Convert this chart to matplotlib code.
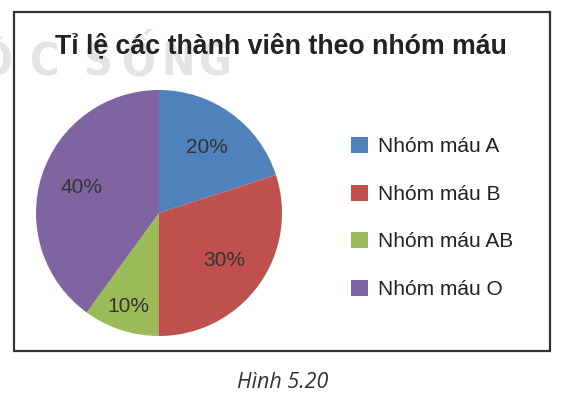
import numpy as np
import matplotlib
matplotlib.use("Agg")
import matplotlib.pyplot as plt
from matplotlib.patches import Rectangle
from matplotlib import font_manager

# data
groups = ["Nhóm máu A", "Nhóm máu B", "Nhóm máu AB", "Nhóm máu O"]
percents = [20, 30, 10, 40]
colors = ["#4F81BD", "#C0504D", "#9BBB59", "#8064A2"]
title = "Tỉ lệ các thành viên theo nhóm máu"
caption = "Hình 5.20"
watermark = ["Ộ", "C", "S", "Ố", "N", "G"]

plt.rcParams['font.family'] = ['Liberation Sans', 'DejaVu Sans']

W, H = 563, 401
fig = plt.figure(figsize=(W / 100, H / 100), dpi=100)

def fx(px):
    return px / W

def fy(py):
    return 1 - py / H

# narrow font for the faint watermark, if there is one
names = {f.name for f in font_manager.fontManager.ttflist}
wm_family = ['Liberation Sans Narrow'] if 'Liberation Sans Narrow' in names else ['DejaVu Sans']

for ch, x in zip(watermark, [-21, 30, 83, 122, 161, 199]):
    fig.text(fx(x), fy(75), ch, fontsize=32, color="#e4e4e4", fontweight="bold",
             fontstretch="condensed", family=wm_family, va="baseline", zorder=0)

# chart border
fig.patches.append(Rectangle((fx(14), fy(351)), fx(550) - fx(14), fy(12) - fy(351),
                             transform=fig.transFigure, fill=False,
                             edgecolor="#333333", linewidth=1.6, zorder=5))

fig.text(fx(281), fy(53), title, ha="center", va="baseline",
         fontsize=19.3, fontweight="bold", color="#222222")

# pie
cx, cy, r = 159, 213, 123
ax = fig.add_axes([fx(cx - r), fy(cy + r), 2 * r / W, 2 * r / H])
wedges, texts, autotexts = ax.pie(percents, colors=colors, startangle=90,
                                  counterclock=False, autopct="%d%%",
                                  pctdistance=0.66, radius=1,
                                  textprops=dict(fontsize=15, color="#333333"),
                                  wedgeprops=dict(linewidth=0))
# small slice label sits further out
for w, t, p in zip(wedges, autotexts, percents):
    if p <= 10:
        ang = np.deg2rad((w.theta1 + w.theta2) / 2)
        t.set_position((0.8 * np.cos(ang), 0.8 * np.sin(ang)))
ax.set_xlim(-1, 1)
ax.set_ylim(-1, 1)
ax.set_aspect("equal")

# legend
leg = fig.legend(wedges, groups, loc="center left",
                 bbox_to_anchor=(fx(351), fy(218)), frameon=False,
                 fontsize=15, handlelength=0.82, handleheight=0.82,
                 handletextpad=0.48, labelspacing=1.35, borderpad=0,
                 borderaxespad=0)
for t in leg.get_texts():
    t.set_color("#222222")

fig.text(fx(283), fy(383), caption, ha="center", va="center", fontsize=15.5,
         fontstyle="italic", family="Open Sans", color="#333333")

fig.savefig("out.png", dpi=100)
